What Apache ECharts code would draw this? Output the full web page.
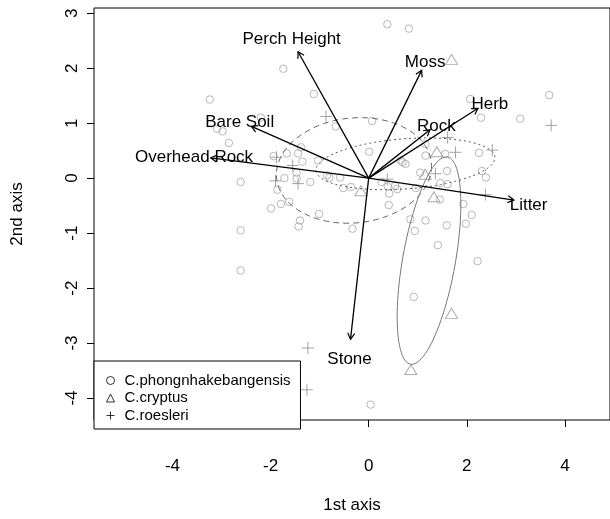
<!DOCTYPE html>
<html>
<head>
<meta charset="utf-8">
<script src="https://cdn.jsdelivr.net/npm/echarts@6/dist/echarts.min.js"></script>
<style>
  html, body { margin: 0; padding: 0; background: #fff; }
  #chart { width: 610px; height: 519px; }
</style>
</head>
<body>
<div id="chart"></div>
<script>
// axis ticks
var xTicks = [-4, -2, 0, 2, 4];
var yTicks = [-4, -3, -2, -1, 0, 1, 2, 3];

var speciesNames = ['C.phongnhakebangensis', 'C.cryptus', 'C.roesleri'];

// site scores
var phongPoints = [
  [0.38, 2.80], [0.82, 2.72], [3.68, 1.51], [2.07, 1.44], [2.29, 1.10], [3.09, 1.08], [0.07, 1.04], [-0.67, 0.94],
  [1.16, 0.62], [2.25, 0.46], [0.01, 0.48], [1.56, 0.44], [1.16, 0.41], [0.65, 0.32], [0.75, 0.26], [1.05, 0.10],
  [1.60, 0.13], [2.31, 0.13], [2.39, 0.01], [1.61, -0.11], [1.46, -0.09], [0.69, 0.29],
  [-0.80, 0.01], [-0.58, 0.01], [-0.52, -0.18], [-0.36, -0.16],
  [0.26, -0.07], [0.39, -0.15], [0.54, -0.14], [0.58, -0.20], [0.42, -0.28], [0.96, -0.18], [0.41, -0.49], [-0.33, -0.92],
  [1.45, -0.39], [1.93, -0.47], [2.10, -0.67], [1.98, -0.83], [0.85, -0.75], [1.16, -0.77], [0.94, -0.96], [1.59, -0.86],
  [1.41, -1.22], [2.22, -1.51], [0.92, -2.16],
  [-2.61, -0.07], [-1.72, 0.00], [-1.86, -0.21], [-1.47, 0.10], [-1.47, -0.01], [-1.19, -0.07], [-1.99, -0.55],
  [-1.79, -0.47], [-1.62, -0.43], [-1.40, -0.77], [-1.43, -0.88], [-1.01, -0.65], [-2.61, -0.95], [-2.61, -1.68],
  [-1.74, 1.99], [-1.12, 1.53], [-3.24, 1.43], [-2.20, 1.10], [-3.09, 0.90], [-2.98, 0.85], [-2.85, 0.64],
  [-1.38, 0.56], [-1.67, 0.45], [-1.44, 0.45], [-1.35, 0.30], [-1.03, 0.32], [-1.94, 0.40], [-0.85, 0.05],
  [0.04, -4.12]
];
var cryptusPoints = [
  [1.69, 2.16], [1.39, 0.48], [1.15, 0.07], [-0.16, -0.23], [1.33, -0.34], [1.69, -2.46], [0.86, -3.48]
];
var roesleriPoints = [
  [-0.87, 1.12], [3.72, 0.96], [1.61, 0.74], [1.77, 0.47], [2.52, 0.51], [1.36, 0.08], [0.38, -0.02],
  [2.38, -0.30], [-1.88, 0.38], [-1.55, 0.23], [-1.90, -0.05], [-1.44, -0.10], [-1.24, -3.09], [-1.26, -3.85]
];

// environmental vectors
var envNames = ['Perch Height', 'Moss', 'Herb', 'Rock', 'Bare Soil', 'Overhead Rock', 'Litter', 'Stone'];
var envTips = [[-1.44, 2.30], [1.08, 1.96], [2.23, 1.27], [1.25, 0.88], [-2.39, 0.94], [-3.22, 0.37], [2.96, -0.40], [-0.37, -2.93]];
var envLabels = [[-1.57, 2.52], [1.15, 2.10], [2.47, 1.34], [1.38, 0.95], [-2.63, 1.01], [-3.56, 0.37], [3.26, -0.49], [-0.39, -3.29]];

// group ellipses: centre and two semi-axis vectors (data units)
var ellipseCentres = [[-0.30, 0.14], [1.23, -1.50], [0.75, 0.26]];
var ellipseAxisA = [[1.58, 0.03], [0.375, 1.885], [1.80, 0.035]];
var ellipseAxisB = [[0.08, 0.96], [0.53, -0.08], [0.30, 0.47]];
var ellipseDash = [[6, 4], null, [2, 3]];
var ellipseColors = ['#666', '#777', '#555'];

var FONT = '"Liberation Sans", Arial, Helvetica, sans-serif';
var crossPath = 'path://M0,6L12,6M6,0L6,12';

function renderEllipse(params, api) {
  var i = params.dataIndex;
  var c = ellipseCentres[i], a = ellipseAxisA[i], b = ellipseAxisB[i];
  var pts = [];
  for (var k = 0; k < 100; k++) {
    var t = k / 100 * 2 * Math.PI;
    pts.push(api.coord([
      c[0] + Math.cos(t) * a[0] + Math.sin(t) * b[0],
      c[1] + Math.cos(t) * a[1] + Math.sin(t) * b[1]
    ]));
  }
  return {
    type: 'polygon',
    shape: { points: pts },
    style: { fill: 'none', stroke: ellipseColors[i], lineWidth: 1, lineDash: ellipseDash[i] }
  };
}

function renderArrow(params, api) {
  var i = params.dataIndex;
  var o = api.coord([0, 0]);
  var p = api.coord([api.value(0), api.value(1)]);
  var l = api.coord([api.value(2), api.value(3)]);
  var ang = Math.atan2(p[1] - o[1], p[0] - o[0]);
  var h = 7, s = Math.PI / 6;
  var h1 = [p[0] - h * Math.cos(ang - s), p[1] - h * Math.sin(ang - s)];
  var h2 = [p[0] - h * Math.cos(ang + s), p[1] - h * Math.sin(ang + s)];
  return {
    type: 'group',
    children: [
      { type: 'line', shape: { x1: o[0], y1: o[1], x2: p[0], y2: p[1] }, style: { stroke: '#000', lineWidth: 1.3 } },
      { type: 'polyline', shape: { points: [h1, p, h2] }, style: { stroke: '#000', fill: 'none', lineWidth: 1.2 } },
      { type: 'text', x: l[0], y: l[1], style: { text: envNames[i], fill: '#000', fontSize: 17, fontFamily: FONT, align: 'center', verticalAlign: 'middle' } }
    ]
  };
}

var chart = echarts.init(document.getElementById('chart'));
chart.setOption({
  animation: false,
  textStyle: { fontFamily: FONT },
  grid: { left: 94, top: 8, width: 523, height: 421, show: true, borderColor: '#000', borderWidth: 1, backgroundColor: 'transparent' },
  xAxis: {
    type: 'value', min: -5.6, max: 4.92,
    name: '1st axis', nameLocation: 'middle', nameGap: 77,
    nameTextStyle: { fontSize: 17, color: '#000', fontFamily: FONT },
    splitLine: { show: false },
    axisLine: { show: false, onZero: false },
    axisTick: { show: true, length: 7, customValues: xTicks, lineStyle: { color: '#000' } },
    axisLabel: { customValues: xTicks, fontSize: 17, color: '#000', margin: 38, fontFamily: FONT }
  },
  yAxis: {
    type: 'value', min: -4.4, max: 3.095,
    name: '2nd axis', nameLocation: 'middle', nameGap: 68,
    nameTextStyle: { fontSize: 17, color: '#000', fontFamily: FONT },
    splitLine: { show: false },
    axisLine: { show: false, onZero: false },
    axisTick: { show: true, length: 7, customValues: yTicks, lineStyle: { color: '#000' } },
    axisLabel: { customValues: yTicks, rotate: 90, fontSize: 17, color: '#000', margin: 13, fontFamily: FONT }
  },
  legend: {
    orient: 'vertical', left: 94, top: 361,
    padding: [11, 10, 5, 10], itemGap: 0.5, itemWidth: 8, itemHeight: 8,
    borderColor: '#000', borderWidth: 1, borderRadius: 0, backgroundColor: '#fff',
    selectedMode: false,
    textStyle: { fontSize: 15, lineHeight: 17, color: '#000', fontFamily: FONT, padding: [0, 0, 0, 5] },
    data: [
      { name: speciesNames[0], icon: 'circle', itemStyle: { color: 'none', borderColor: '#000', borderWidth: 1 } },
      { name: speciesNames[1], icon: 'triangle', itemStyle: { color: 'none', borderColor: '#000', borderWidth: 1 } },
      { name: speciesNames[2], icon: crossPath, itemStyle: { color: 'none', borderColor: '#000', borderWidth: 1 } }
    ]
  },
  series: [
    {
      name: speciesNames[0], type: 'scatter', data: phongPoints, symbol: 'circle', symbolSize: 7.5, silent: true,
      itemStyle: { color: 'none', borderColor: '#a6a6a6', borderWidth: 1 }
    },
    {
      name: speciesNames[1], type: 'scatter', data: cryptusPoints, symbol: 'triangle', symbolSize: [12, 10], silent: true,
      itemStyle: { color: 'none', borderColor: '#999', borderWidth: 1 }
    },
    {
      name: speciesNames[2], type: 'scatter', data: roesleriPoints, symbol: crossPath, symbolSize: 12, silent: true,
      itemStyle: { color: 'none', borderColor: '#8c8c8c', borderWidth: 1 }
    },
    {
      type: 'custom', name: 'ellipses', renderItem: renderEllipse, silent: true, z: 3,
      data: ellipseCentres, encode: { x: 0, y: 1 }
    },
    {
      type: 'custom', name: 'vectors', renderItem: renderArrow, silent: true, z: 4,
      data: envTips.map(function (t, i) { return [t[0], t[1], envLabels[i][0], envLabels[i][1]]; }),
      encode: { x: [0, 2], y: [1, 3] }
    }
  ]
});
</script>
</body>
</html>
